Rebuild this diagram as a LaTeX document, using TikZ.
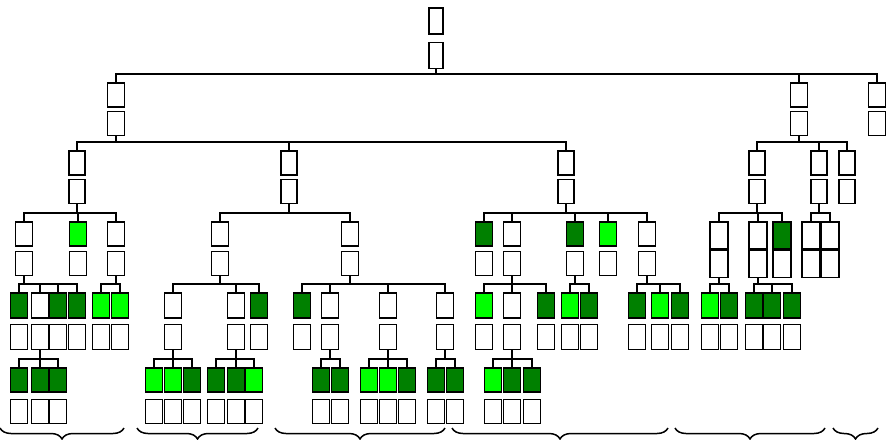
\documentclass[tikz,border=0pt]{standalone}
\usetikzlibrary{positioning,calc,decorations.pathreplacing}
\definecolor{dk}{HTML}{008000}
\definecolor{lt}{HTML}{00FF00}
% one entry = upper box (coloured) over a white lower box
\newcommand\pr[6]{%
  \node[box,#5,fill=#6,anchor=north] (#1) at (#2,#3) {};
  \node[box,#5,below=#4 of #1] (#1l) {};}
\newcommand\kid[2]{\draw[link] (#1l.south) |- ($(#2.north)+(0,-8)$) -- (#2.north);}
\begin{document}
\begin{tikzpicture}[x=1pt,y=-1pt,
    box/.style={draw, line width=1.7pt, inner sep=0pt, fill=white},
    lv0/.style={minimum width=14pt, minimum height=26pt},
    lv1/.style={minimum width=17pt, minimum height=24pt},
    lv2/.style={minimum width=16pt, minimum height=24pt},
    lv3/.style={minimum width=17pt, minimum height=24pt},
    lv3b/.style={minimum width=18pt, minimum height=27pt},
    lv4/.style={minimum width=17pt, minimum height=25pt},
    link/.style={line width=1.5pt},
    brc/.style={line width=1.5pt, decorate, decoration={brace, mirror, amplitude=11pt, aspect=0.5}}
]
    \useasboundingbox (0,0) rectangle (888,439);

    \pr{r}{436}{7}{7pt}{lv0}{white}

    \pr{a1}{116}{82}{3pt}{lv1}{white}
    \pr{a2}{799}{82}{3pt}{lv1}{white}
    \pr{a3}{877}{82}{3pt}{lv1}{white}

    \pr{b1}{77}{150}{3pt}{lv2}{white}
    \pr{b2}{289}{150}{3pt}{lv2}{white}
    \pr{b3}{566}{150}{3pt}{lv2}{white}
    \pr{b4}{757}{150}{3pt}{lv2}{white}
    \pr{b5}{819}{150}{3pt}{lv2}{white}
    \pr{b6}{847}{150}{3pt}{lv2}{white}

    \pr{c1}{24}{221}{4pt}{lv3}{white}
    \pr{c2}{78}{221}{4pt}{lv3}{lt}
    \pr{c3}{116}{221}{4pt}{lv3}{white}
    \pr{c4}{220}{221}{4pt}{lv3}{white}
    \pr{c5}{350}{221}{4pt}{lv3}{white}
    \pr{c6}{484}{221}{4pt}{lv3}{dk}
    \pr{c7}{512}{221}{4pt}{lv3}{white}
    \pr{c8}{575}{221}{4pt}{lv3}{dk}
    \pr{c9}{608}{221}{4pt}{lv3}{lt}
    \pr{c10}{647}{221}{4pt}{lv3}{white}
    \pr{c11}{719}{221}{0pt}{lv3b}{white}
    \pr{c12}{758}{221}{0pt}{lv3b}{white}
    \pr{c13}{782}{221}{0pt}{lv3b}{dk}
    \pr{c14}{811}{221}{0pt}{lv3b}{white}
    \pr{c15}{830}{221}{0pt}{lv3b}{white}

    \pr{d1}{19}{292}{5pt}{lv4}{dk}
    \pr{d2}{40}{292}{5pt}{lv4}{white}
    \pr{d3}{58}{292}{5pt}{lv4}{dk}
    \pr{d4}{77}{292}{5pt}{lv4}{dk}
    \pr{d5}{101}{292}{5pt}{lv4}{lt}
    \pr{d6}{120}{292}{5pt}{lv4}{lt}
    \pr{d7}{173}{292}{5pt}{lv4}{white}
    \pr{d8}{236}{292}{5pt}{lv4}{white}
    \pr{d9}{259}{292}{5pt}{lv4}{dk}
    \pr{d10}{302}{292}{5pt}{lv4}{dk}
    \pr{d11}{330}{292}{5pt}{lv4}{white}
    \pr{d12}{388}{292}{5pt}{lv4}{white}
    \pr{d13}{445}{292}{5pt}{lv4}{white}
    \pr{d14}{484}{292}{5pt}{lv4}{lt}
    \pr{d15}{512}{292}{5pt}{lv4}{white}
    \pr{d16}{546}{292}{5pt}{lv4}{dk}
    \pr{d17}{570}{292}{5pt}{lv4}{lt}
    \pr{d18}{589}{292}{5pt}{lv4}{dk}
    \pr{d19}{637}{292}{5pt}{lv4}{dk}
    \pr{d20}{660}{292}{5pt}{lv4}{lt}
    \pr{d21}{680}{292}{5pt}{lv4}{dk}
    \pr{d22}{710}{292}{5pt}{lv4}{lt}
    \pr{d23}{729}{292}{5pt}{lv4}{dk}
    \pr{d24}{754}{292}{5pt}{lv4}{dk}
    \pr{d25}{772}{292}{5pt}{lv4}{dk}
    \pr{d26}{792}{292}{5pt}{lv4}{dk}

    \pr{e1}{19}{367}{6pt}{lv3}{dk}
    \pr{e2}{40}{367}{6pt}{lv3}{dk}
    \pr{e3}{58}{367}{6pt}{lv3}{dk}
    \pr{e4}{154}{367}{6pt}{lv3}{lt}
    \pr{e5}{173}{367}{6pt}{lv3}{lt}
    \pr{e6}{192}{367}{6pt}{lv3}{dk}
    \pr{e7}{216}{367}{6pt}{lv3}{dk}
    \pr{e8}{236}{367}{6pt}{lv3}{dk}
    \pr{e9}{254}{367}{6pt}{lv3}{lt}
    \pr{e10}{321}{367}{6pt}{lv3}{dk}
    \pr{e11}{340}{367}{6pt}{lv3}{dk}
    \pr{e12}{369}{367}{6pt}{lv3}{lt}
    \pr{e13}{388}{367}{6pt}{lv3}{lt}
    \pr{e14}{407}{367}{6pt}{lv3}{dk}
    \pr{e15}{436}{367}{6pt}{lv3}{dk}
    \pr{e16}{455}{367}{6pt}{lv3}{dk}
    \pr{e17}{493}{367}{6pt}{lv3}{lt}
    \pr{e18}{512}{367}{6pt}{lv3}{dk}
    \pr{e19}{532}{367}{6pt}{lv3}{dk}

    \kid{r}{a1} \kid{r}{a2} \kid{r}{a3}
    \kid{a1}{b1} \kid{a1}{b2} \kid{a1}{b3}
    \kid{a2}{b4} \kid{a2}{b5} \kid{a2}{b6}
    \kid{b1}{c1} \kid{b1}{c2} \kid{b1}{c3}
    \kid{b2}{c4} \kid{b2}{c5}
    \kid{b3}{c6} \kid{b3}{c7} \kid{b3}{c8} \kid{b3}{c9} \kid{b3}{c10}
    \kid{b4}{c11} \kid{b4}{c12} \kid{b4}{c13}
    \kid{b5}{c14} \kid{b5}{c15}
    \kid{c1}{d1} \kid{c1}{d2} \kid{c1}{d3} \kid{c1}{d4}
    \kid{c3}{d5} \kid{c3}{d6}
    \kid{c4}{d7} \kid{c4}{d8} \kid{c4}{d9}
    \kid{c5}{d10} \kid{c5}{d11} \kid{c5}{d12} \kid{c5}{d13}
    \kid{c7}{d14} \kid{c7}{d15} \kid{c7}{d16}
    \kid{c8}{d17} \kid{c8}{d18}
    \kid{c10}{d19} \kid{c10}{d20} \kid{c10}{d21}
    \kid{c11}{d22} \kid{c11}{d23}
    \kid{c12}{d24} \kid{c12}{d25} \kid{c12}{d26}
    \kid{d2}{e1} \kid{d2}{e2} \kid{d2}{e3}
    \kid{d7}{e4} \kid{d7}{e5} \kid{d7}{e6}
    \kid{d8}{e7} \kid{d8}{e8} \kid{d8}{e9}
    \kid{d11}{e10} \kid{d11}{e11}
    \kid{d12}{e12} \kid{d12}{e13} \kid{d12}{e14}
    \kid{d13}{e15} \kid{d13}{e16}
    \kid{d15}{e17} \kid{d15}{e18} \kid{d15}{e19}

    % group braces along the bottom edge
    \draw[brc] (0,428) -- (124,428);
    \draw[brc] (137,428) -- (258,428);
    \draw[brc] (275,428) -- (445,428);
    \draw[brc] (452,428) -- (668,428);
    \draw[brc] (675,428) -- (825,428);
    \draw[brc] (833,428) -- (878,428);
\end{tikzpicture}
\end{document}
